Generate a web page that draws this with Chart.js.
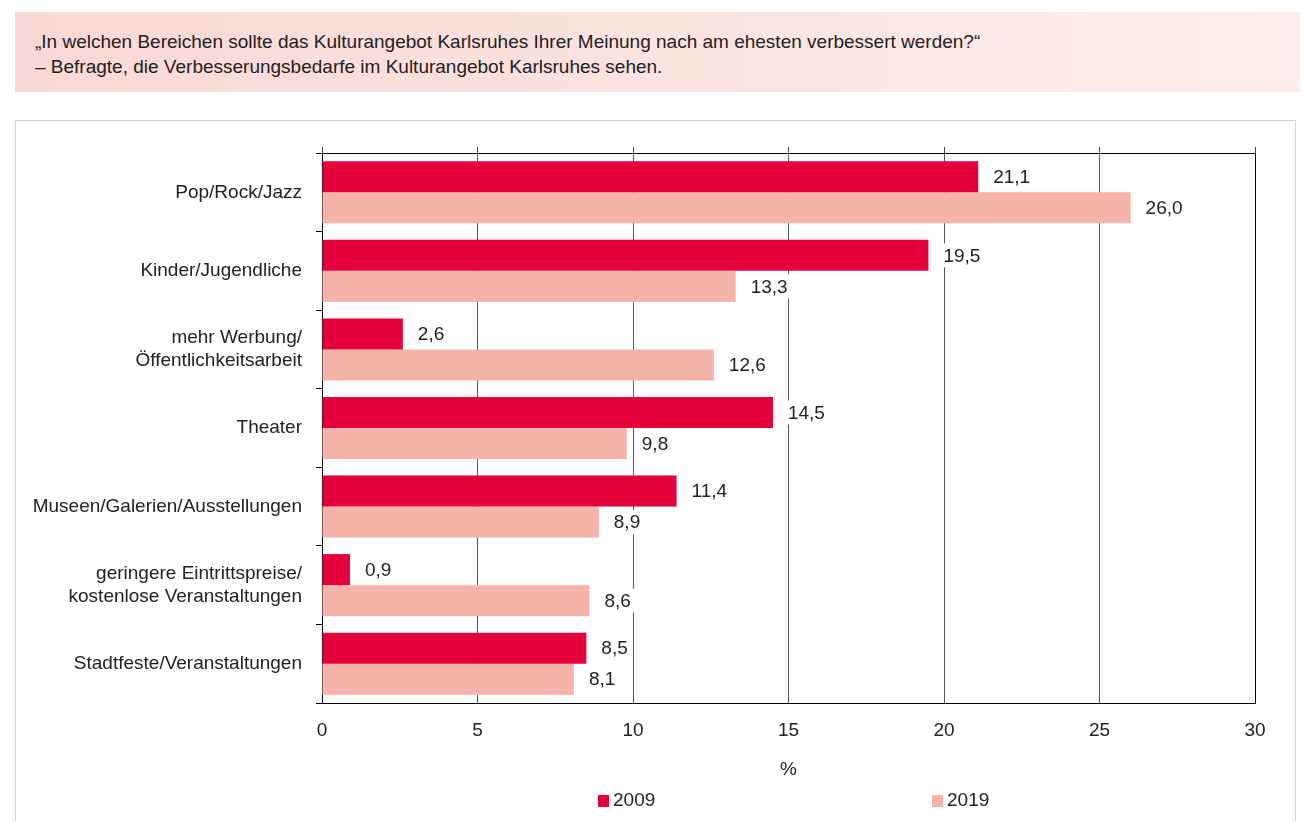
<!DOCTYPE html>
<html>
<head>
<meta charset="utf-8">
<script src="https://cdn.jsdelivr.net/npm/chart.js@4"></script>
<style>
  body { margin: 0; background: #fff; font-family: "Liberation Sans Narrow", "Liberation Sans", sans-serif; color: #222; }
  #head {
    position: absolute; left: 15px; top: 12px; width: 1285px; height: 80px;
    background: linear-gradient(to right, #f9d8d3, #fdeeeb);
  }
  #head div { position: absolute; left: 20px; font-size: 19px; }
  #box {
    position: absolute; left: 15px; top: 120px; width: 1279px; height: 720px;
    border: 1px solid #d4d4d4;
  }
  #chartWrap { position: absolute; left: 15px; top: 121px; width: 1280px; height: 700px; }
  .leg { position: absolute; top: 789px; font-size: 19px; }
  .leg span { display: inline-block; width: 11px; height: 12px; margin-right: 4px; vertical-align: -1px; }
</style>
</head>
<body>
<div id="head">
  <div style="top:19px">„In welchen Bereichen sollte das Kulturangebot Karlsruhes Ihrer Meinung nach am ehesten verbessert werden?“</div>
  <div style="top:44px">– Befragte, die Verbesserungsbedarfe im Kulturangebot Karlsruhes sehen.</div>
</div>
<div id="box"></div>
<div id="chartWrap"><canvas id="myChart"></canvas></div>
<div class="leg" style="left:598px"><span style="background:#e4003a"></span>2009</div>
<div class="leg" style="left:932px"><span style="background:#f6b3aa"></span>2019</div>
<script>
const categories = [
  "Pop/Rock/Jazz",
  "Kinder/Jugendliche",
  ["mehr Werbung/", "Öffentlichkeitsarbeit"],
  "Theater",
  "Museen/Galerien/Ausstellungen",
  ["geringere Eintrittspreise/", "kostenlose Veranstaltungen"],
  "Stadtfeste/Veranstaltungen",
];
const values2009 = [21.1, 19.5, 2.6, 14.5, 11.4, 0.9, 8.5];
const values2019 = [26.0, 13.3, 12.6, 9.8, 8.9, 8.6, 8.1];
const xTicks = [0, 5, 10, 15, 20, 25, 30];

const fontFamily = '"Liberation Sans Narrow", "Liberation Sans", sans-serif';

const valueLabels = {
  id: "valueLabels",
  afterDatasetsDraw(chart) {
    const ctx = chart.ctx;
    ctx.save();
    ctx.font = "19px " + fontFamily;
    ctx.textBaseline = "middle";
    ctx.textAlign = "left";
    chart.data.datasets.forEach((ds, i) => {
      chart.getDatasetMeta(i).data.forEach((bar, j) => {
        const txt = ds.data[j].toFixed(1).replace(".", ",");
        const w = ctx.measureText(txt).width;
        const x = bar.x + 15;
        ctx.fillStyle = "#fff";
        ctx.fillRect(x - 4, bar.y - 12, w + 8, 24);
        ctx.fillStyle = "#222";
        ctx.fillText(txt, x, bar.y + 1);
      });
    });
    ctx.restore();
  },
};

const ctx = document.getElementById("myChart").getContext("2d");
new Chart(ctx, {
  type: "bar",
  data: {
    labels: categories,
    datasets: [
      { label: "2009", data: values2009, backgroundColor: "#e4003a", categoryPercentage: 0.79, barPercentage: 1 },
      { label: "2019", data: values2019, backgroundColor: "#f6b3aa", categoryPercentage: 0.79, barPercentage: 1 },
    ],
  },
  options: {
    indexAxis: "y",
    responsive: true,
    maintainAspectRatio: false,
    animation: false,
    layout: { padding: { left: 0, right: 40, top: 0, bottom: 36 } },
    plugins: { legend: { display: false }, tooltip: { enabled: false } },
    scales: {
      x: {
        position: "bottom",
        min: 0,
        max: 30,
        afterBuildTicks: (s) => { s.ticks = xTicks.map((v) => ({ value: v })); },
        afterFit: (s) => { s.height = 82; },
        ticks: { color: "#222", font: { size: 19, family: fontFamily }, padding: 16 },
        grid: {
          drawTicks: false,
          color: (c) => (c.tick && (c.tick.value === 0 || c.tick.value === 30) ? "#000" : "#555"),
        },
        border: { color: "#000" },
        title: { display: true, text: "%", color: "#222", font: { size: 19, family: fontFamily }, padding: { top: 0, bottom: 4 } },
      },
      x2: {
        position: "top",
        min: 0,
        max: 30,
        afterBuildTicks: (s) => { s.ticks = xTicks.map((v) => ({ value: v })); },
        afterFit: (s) => { s.height = 32; },
        ticks: { display: false },
        grid: { drawOnChartArea: false, tickLength: 6, color: "#444" },
        border: { color: "#000" },
      },
      y: {
        afterFit: (s) => { s.width = 307; },
        ticks: { color: "#222", font: { size: 19, family: fontFamily }, padding: 14 },
        grid: { drawOnChartArea: false, tickLength: 6, color: "#000", offset: true },
        border: { color: "#000" },
      },
    },
  },
  plugins: [valueLabels],
});
</script>
</body>
</html>
